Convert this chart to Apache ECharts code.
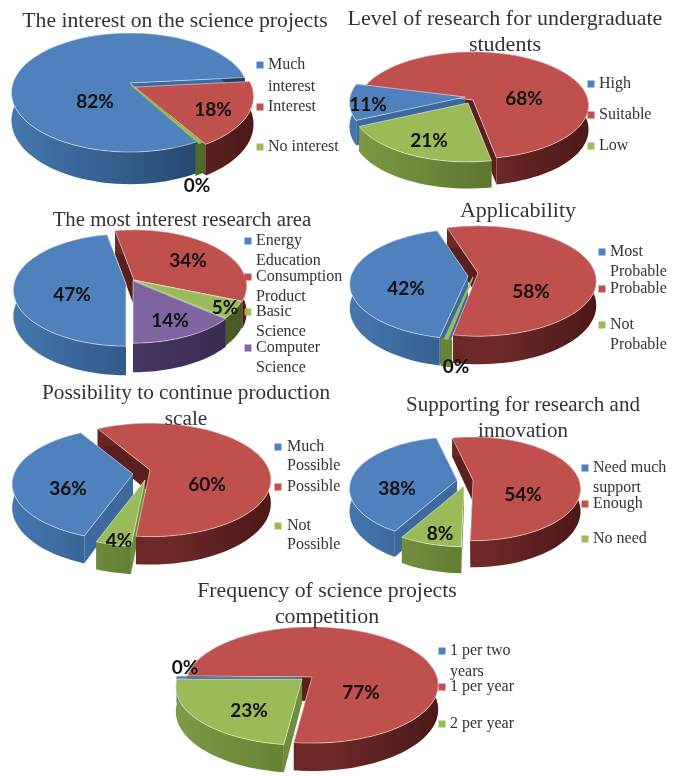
<!DOCTYPE html>
<html><head><meta charset="utf-8">
<script src="https://cdn.jsdelivr.net/npm/echarts@6/dist/echarts.min.js"></script>
<style>html,body{margin:0;padding:0;background:#fff}#c{width:685px;height:776px}</style>
</head><body><div id="c"></div>
<script>
// ---- data ----
const interestNames = ['Much\ninterest', 'Interest', 'No interest'];
const interestValues = [81.8, 17.8, 0.4];
const levelNames = ['High', 'Suitable', 'Low'];
const levelValues = [11, 68, 21];
const areaNames = ['Energy\nEducation', 'Consumption\nProduct', 'Basic\nScience', 'Computer\nScience'];
const areaValues = [47, 34, 5, 14];
const applicabilityNames = ['Most\nProbable', 'Probable', 'Not\nProbable'];
const applicabilityValues = [41.8, 57.8, 0.4];
const possibilityNames = ['Much\nPossible', 'Possible', 'Not\nPossible'];
const possibilityValues = [36, 60, 4];
const supportNames = ['Need much\nsupport', 'Enough', 'No need'];
const supportValues = [38, 54, 8];
const frequencyNames = ['1 per two\nyears', '1 per year', '2 per year'];
const frequencyValues = [0.3, 76.7, 23];

const titleTexts = [
  'The interest on the science projects',
  'Level of research for undergraduate\nstudents',
  'The most interest research area',
  'Applicability',
  'Possibility to continue production\nscale',
  'Supporting for research and\ninnovation',
  'Frequency of science projects\ncompetition'
];

// ---- layout & style ----
const SERIF = '"Liberation Serif","Times New Roman",serif';
const palette = {
  blue:   {top:'#4f81bd', wall:'#3c6a9f', rim:['#4576ad','#2f5885','#1d3a5c']},
  red:    {top:'#c0504d', wall:'#5b1f1d', rim:['#5c201e','#6f2a28','#4b1917']},
  green:  {top:'#9bbb59', wall:'#6f8c3a', rim:['#7d9a45','#5f7a30','#465a22']},
  purple: {top:'#8064a2', wall:'#4a3768', rim:['#55407a','#46345f','#38294d']}
};
const order4 = ['blue','red','green','purple'];
const layouts = [
  {names:interestNames, values:interestValues, rot:150, R:117, Rs:58, k:.16, D:27,
   apex:[[130,83],[135,87],[131,85]], labels:[[95,102],[213,110],[197,186]],
   titleX:175, titleY:8, titleSize:21.7, lx:260, tx:268, ly:[65,107,147], gap:22},
  {names:levelNames, values:levelValues, rot:245, R:115, Rs:53, k:.1, D:24,
   apex:[[465,97],[473,100],[468,103]], labels:[[368,105],[524,99],[429,141]],
   titleX:505, titleY:6, titleSize:22, lx:591, tx:599, ly:[84,115,146], gap:20},
  {names:areaNames, values:areaValues, rot:180, R:112, Rs:55.5, k:.107, D:26,
   apex:[[126,284],[134,280],[133,280],[133,281]], labels:[[72,295],[188,261],[225,308],[170,321]],
   titleX:182, titleY:208, titleSize:20.8, lx:248, tx:256, ly:[241,277,312,348], gap:20},
  {names:applicabilityNames, values:applicabilityValues, rot:192, R:117, Rs:54, k:.145, D:24,
   apex:[[468,276],[478,273],[473,277]], labels:[[406,289],[531,292],[456,367]],
   titleX:518, titleY:198, titleSize:22, lx:602, tx:610, ly:[252,289,325], gap:20},
  {names:possibilityNames, values:possibilityValues, rot:200, R:119, Rs:55, k:.175, D:23,
   apex:[[133,474],[150,470],[145,480]], labels:[[68,489],[207,485],[119,541]],
   titleX:186, titleY:380, titleSize:21.3, lx:278, tx:287, ly:[447,487,526], gap:19},
  {names:supportNames, values:supportValues, rot:210, R:106, Rs:50.4, k:.17, D:22,
   apex:[[457,480],[473,480],[464,486]], labels:[[397,489],[523,495],[440,534]],
   titleX:523, titleY:392, titleSize:21, lx:585, tx:593, ly:[468,504,539], gap:20},
  {names:frequencyNames, values:frequencyValues, rot:270, R:125, Rs:57, k:.138, D:24,
   apex:[[302,678],[312,677],[302,679]], labels:[[185,668],[361,693],[249,711]],
   titleX:327, titleY:578, titleSize:21.8, lx:442, tx:450, ly:[651,687,724], gap:21}
];
const SLIVER_RIM_DEG = 5;

function arcPoint(L, apex, deg, dz) {
  const t = deg * Math.PI / 180, u = Math.sin(t), v = Math.cos(t), w = 1 + L.k * v;
  return [apex[0] + L.R * u / w, apex[1] - (L.Rs * v - dz) / w];
}

function makeRender(L) {
  return function (params, api) {
    const i = api.value(0), value = api.value(1), rank = params.dataIndex;
    let before = 0;
    for (let j = 0; j < i; j++) before += L.values[j];
    const a0 = L.rot + before * 3.6, a1 = a0 + value * 3.6;
    const apex = L.apex[i], pal = palette[order4[i]];
    const sliver = value < 1;
    const n = Math.max(2, Math.ceil((a1 - a0) / 3));
    const topArc = [];
    for (let s = 0; s <= n; s++) topArc.push(arcPoint(L, apex, a0 + (a1 - a0) * s / n, 0));
    // the rim of a near-zero slice is shown a little wider, as in the picture
    const mid = (a0 + a1) / 2;
    const r0 = sliver ? mid - SLIVER_RIM_DEG / 2 : a0, r1 = sliver ? mid + SLIVER_RIM_DEG / 2 : a1;
    const rimTop = [], rimBot = [];
    for (let s = 0; s <= n; s++) {
      const d = r0 + (r1 - r0) * s / n;
      rimTop.push(arcPoint(L, apex, d, 0));
      rimBot.push(arcPoint(L, apex, d, L.D));
    }
    const A = apex, B = [apex[0], apex[1] + L.D];
    const rimFill = new echarts.graphic.LinearGradient(
      apex[0] - L.R, 0, apex[0] + L.R, 0,
      [{offset:0,color:pal.rim[0]},{offset:.55,color:pal.rim[1]},{offset:1,color:pal.rim[2]}], true);
    const children = [];
    // paint order across slices: all cut faces, then rims, then top faces
    if (!sliver) {
      children.push({type:'polygon', z2:rank, shape:{points:[A, rimTop[0], rimBot[0], B]}, style:{fill:pal.wall}});
      children.push({type:'polygon', z2:rank, shape:{points:[A, rimTop[n], rimBot[n], B]}, style:{fill:pal.wall}});
    }
    children.push({type:'polygon', z2:20 + rank, shape:{points:rimTop.concat(rimBot.slice().reverse())}, style:{fill:rimFill}});
    children.push({type:'polygon', z2:40 + rank, shape:{points:[A].concat(topArc)},
       style:{fill:pal.top, stroke: sliver ? pal.top : 'rgba(255,255,255,.5)', lineWidth: sliver ? 1.4 : 1}});
    // percentage label
    children.push({type:'text', z2:100, x:L.labels[i][0], y:L.labels[i][1],
      style:{text:Math.round(value) + '%', font:'bold 19px Lato, sans-serif', fill:'#111',
             align:'center', verticalAlign:'middle'}});
    // legend entry
    children.push({type:'rect', z2:100, shape:{x:L.lx-3.5, y:L.ly[i]-3.5, width:7, height:7}, style:{fill:pal.top}});
    L.names[i].split('\n').forEach(function (line, k) {
      children.push({type:'text', z2:100, x:L.tx, y:L.ly[i] + k * L.gap,
        style:{text:line, font:'16px ' + SERIF, fill:'#333', align:'left', verticalAlign:'middle'}});
    });
    return {type:'group', children:children};
  };
}

function drawOrder(L) {
  let before = 0;
  const items = L.values.map(function (v, i) {
    const mid = L.rot + (before + v / 2) * 3.6; before += v;
    return {i:i, v:v, near:Math.cos(mid * Math.PI / 180), sliver:v < 1};
  });
  items.sort(function (a, b) { return (a.sliver - b.sliver) || (b.near - a.near); });
  return items.map(function (o) { return [o.i, o.v]; });
}

const chart = echarts.init(document.getElementById('c'), null, {renderer:'canvas'});
chart.setOption({
  animation:false,
  backgroundColor:'#fff',
  title: layouts.map(function (L, i) {
    return {text:titleTexts[i], left:L.titleX, top:L.titleY, textAlign:'center', padding:0, z:20,
      textStyle:{fontFamily:SERIF, fontSize:L.titleSize, fontWeight:'normal', color:'#333', lineHeight:26}};
  }),
  series: layouts.map(function (L) {
    return {type:'custom', coordinateSystem:'none', silent:true, renderItem:makeRender(L),
      data:drawOrder(L), encode:{}};
  })
});
</script></body></html>
